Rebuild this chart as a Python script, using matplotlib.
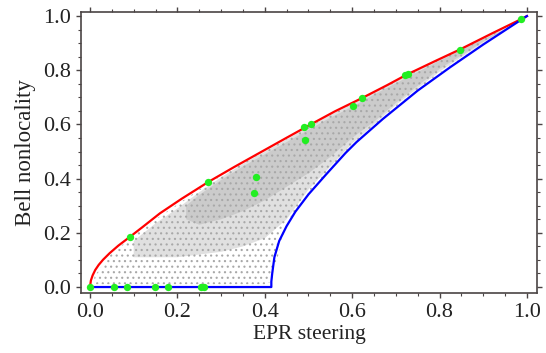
import numpy as np
import matplotlib
matplotlib.use("Agg")
import matplotlib.pyplot as plt
from matplotlib.ticker import MultipleLocator

# upper bound curve (red)
red_x = [0, 0.002, 0.006, 0.012, 0.02, 0.03, 0.045, 0.065, 0.092, 0.12, 0.16, 0.21,
         0.271, 0.33, 0.39, 0.45, 0.505, 0.56, 0.622, 0.68, 0.725, 0.79, 0.847, 0.92, 0.986, 1.0]
red_y = [0, 0.024, 0.043, 0.063, 0.082, 0.101, 0.125, 0.153, 0.186, 0.221, 0.272, 0.326,
         0.388, 0.443, 0.497, 0.551, 0.600, 0.648, 0.697, 0.745, 0.784, 0.834, 0.877, 0.936, 0.988, 1.0]

# lower bound curve (blue)
blue_x = [0, 0.415, 0.415, 0.417, 0.422, 0.433, 0.45, 0.47, 0.50, 0.54, 0.585, 0.61,
          0.67, 0.75, 0.825, 0.90, 0.976, 1.0]
blue_y = [0, 0, 0.02, 0.05, 0.11, 0.17, 0.225, 0.278, 0.342, 0.415, 0.495, 0.535,
          0.62, 0.725, 0.812, 0.895, 0.975, 1.0]

# special states (green)
green_x = [0, 0.055, 0.085, 0.149, 0.178, 0.255, 0.262, 0.092, 0.271, 0.379, 0.375,
           0.490, 0.505, 0.492, 0.603, 0.622, 0.721, 0.728, 0.847, 0.986]
green_y = [0, 0, 0, 0, 0, 0, 0, 0.186, 0.388, 0.407, 0.348,
           0.589, 0.600, 0.542, 0.667, 0.697, 0.782, 0.788, 0.876, 0.988]

# envelopes of the random-state cloud (sparse / medium / dense parts)
sparse_x = [0.01, 0.05, 0.1, 0.15, 0.2, 0.25, 0.3, 0.35, 0.4, 0.415, 0.45, 0.5, 0.55, 0.6, 0.7, 0.8, 0.9, 0.97]
sparse_lo = [0.01, 0.01, 0.01, 0.01, 0.01, 0.01, 0.01, 0.01, 0.01, 0.02, 0.235, 0.35, 0.435, 0.525, 0.665, 0.79, 0.9, 0.968]
sparse_hi = [0.04, 0.125, 0.19, 0.25, 0.305, 0.36, 0.41, 0.458, 0.50, 0.515, 0.545, 0.59, 0.635, 0.675, 0.76, 0.84, 0.918, 0.97]

mid_x = [0.1, 0.15, 0.2, 0.25, 0.3, 0.35, 0.4, 0.45, 0.5, 0.55, 0.6, 0.65, 0.7, 0.8, 0.9, 0.96]
mid_lo = [0.11, 0.11, 0.11, 0.12, 0.13, 0.15, 0.18, 0.25, 0.36, 0.445, 0.53, 0.60, 0.672, 0.795, 0.902, 0.96]
mid_hi = [0.17, 0.235, 0.29, 0.35, 0.405, 0.455, 0.50, 0.545, 0.59, 0.635, 0.675, 0.72, 0.76, 0.84, 0.92, 0.96]

dense_x = [0.22, 0.25, 0.3, 0.35, 0.4, 0.45, 0.5, 0.55, 0.6, 0.65, 0.7, 0.8, 0.9, 0.95]
dense_lo = [0.25, 0.23, 0.25, 0.28, 0.32, 0.37, 0.42, 0.48, 0.55, 0.61, 0.68, 0.805, 0.905, 0.95]
dense_hi = [0.30, 0.34, 0.395, 0.445, 0.49, 0.535, 0.58, 0.625, 0.665, 0.71, 0.752, 0.835, 0.915, 0.95]

plt.rcParams['font.family'] = 'Liberation Serif'
plt.rcParams['hatch.linewidth'] = 0.8

fig = plt.figure(figsize=(5.46, 3.53), dpi=100)
ax = fig.add_axes([81/546, 60/353, 456/546, 281/353])

gray = '#a8a8a8'
ax.fill_between(mid_x, mid_lo, mid_hi, facecolor='#e0e0e0', edgecolor='none', linewidth=0)
ax.fill_between(dense_x, dense_lo, dense_hi, facecolor='#cbcbcb', edgecolor='none', linewidth=0)
ax.fill_between(sparse_x, sparse_lo, sparse_hi, facecolor='none', edgecolor=gray, hatch='...', linewidth=0)

ax.plot(red_x, red_y, color='#ff0000', lw=1.6, zorder=3)
ax.plot(blue_x, blue_y, color='#0000ff', lw=1.6, zorder=3)
ax.scatter(green_x, green_y, s=28, color='#22ee22', zorder=4, linewidths=0, clip_on=False)

ax.set_xlim(-0.0206, 1.023)
ax.set_ylim(-0.022, 1.015)
ax.xaxis.set_major_locator(MultipleLocator(0.2))
ax.yaxis.set_major_locator(MultipleLocator(0.2))
ax.xaxis.set_minor_locator(MultipleLocator(0.05))
ax.yaxis.set_minor_locator(MultipleLocator(0.05))
ax.xaxis.set_major_formatter(lambda v, p: f'{v:.1f}')
ax.yaxis.set_major_formatter(lambda v, p: f'{v:.1f}')

spine_c = '#4a4444'
for s in ax.spines.values():
    s.set_color(spine_c)
    s.set_linewidth(1.2)
ax.tick_params(which='both', direction='out', top=True, right=True, color=spine_c,
               labelsize=16, labelcolor='#222222')
ax.tick_params(which='major', length=3.5, width=1.0, pad=4)
ax.tick_params(which='minor', length=2, width=0.8)

ax.set_xlabel('EPR steering', fontsize=15.5, color='#222222', labelpad=2)
ax.set_ylabel('Bell nonlocality', fontsize=16.5, color='#222222', labelpad=5)

fig.savefig('out.png', dpi=100)
